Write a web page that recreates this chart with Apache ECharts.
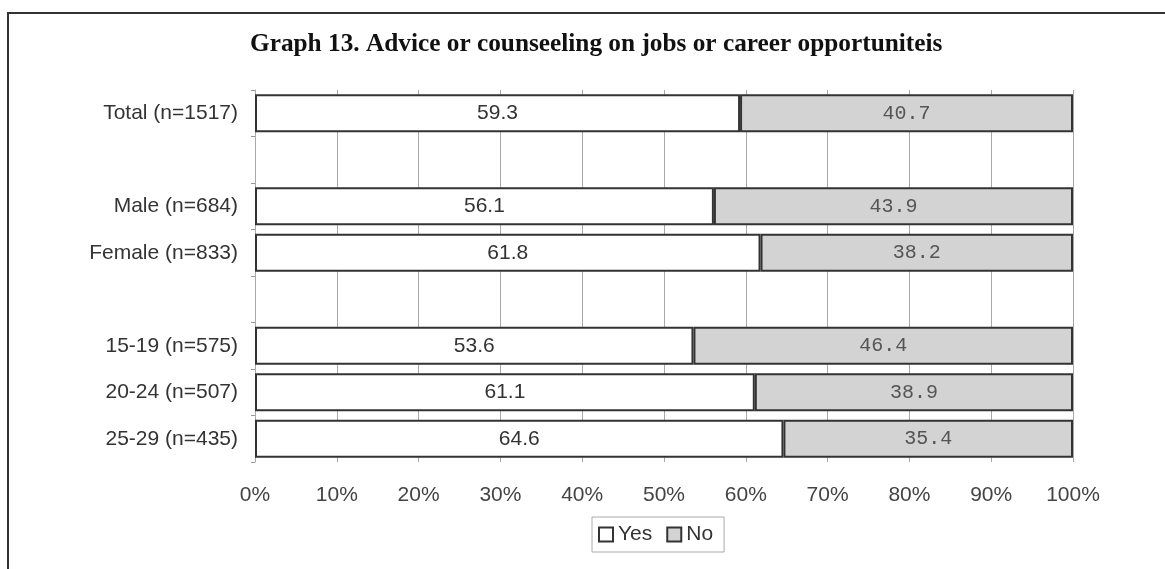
<!DOCTYPE html>
<html>
<head>
<meta charset="utf-8">
<script src="https://cdn.jsdelivr.net/npm/echarts@6/dist/echarts.min.js"></script>
<style>
html,body{margin:0;padding:0;background:#fff;}
#chart{width:1165px;height:569px;}
</style>
</head>
<body>
<div id="chart"></div>
<script>
var categories = ['Total (n=1517)', '', 'Male (n=684)', 'Female (n=833)', '', '15-19 (n=575)', '20-24 (n=507)', '25-29 (n=435)'];
var yesValues = [59.3, null, 56.1, 61.8, null, 53.6, 61.1, 64.6];
var noValues = [40.7, null, 43.9, 38.2, null, 46.4, 38.9, 35.4];
var xTickLabels = ['0%', '10%', '20%', '30%', '40%', '50%', '60%', '70%', '80%', '90%', '100%'];

var chart = echarts.init(document.getElementById('chart'), null, {renderer: 'canvas'});
chart.setOption({
  backgroundColor: '#ffffff',
  animation: false,
  title: {
    text: 'Graph 13. Advice or counseeling on jobs or career opportuniteis',
    left: 245,
    top: 27,
    textStyle: {fontFamily: 'Liberation Serif', fontWeight: 'bold', fontSize: 25.3, color: '#111'}
  },
  graphic: [{
    type: 'polyline',
    shape: {points: [[8, 569], [8, 13], [1165, 13]]},
    style: {stroke: '#333', lineWidth: 2, fill: null}
  }],
  legend: {
    data: ['Yes', 'No'],
    left: 592,
    top: 517,
    icon: 'rect',
    itemWidth: 14,
    itemHeight: 14,
    itemGap: 14,
    padding: [7, 11, 7, 6],
    borderColor: '#aaa',
    borderWidth: 1,
    textStyle: {fontFamily: 'Liberation Sans', fontSize: 21, color: '#333', padding: [0, 0, 0, 0]}
  },
  grid: {left: 255, right: 92, top: 90, bottom: 107, containLabel: false},
  xAxis: {
    type: 'value',
    min: 0, max: 100, interval: 10,
    axisLine: {show: false},
    axisTick: {show: false},
    splitLine: {show: true, lineStyle: {color: '#a8a8a8', width: 1}},
    axisLabel: {
      margin: 23,
      fontFamily: 'Liberation Sans', fontSize: 21, color: '#444',
      formatter: function (v) { return xTickLabels[Math.round(v / 10)]; }
    }
  },
  yAxis: {
    type: 'category',
    data: categories,
    inverse: true,
    axisLine: {show: true, lineStyle: {color: '#aaa'}},
    axisTick: {show: true, length: 4, lineStyle: {color: '#999'}},
    splitLine: {show: false},
    axisLabel: {margin: 17, fontFamily: 'Liberation Sans', fontSize: 21, color: '#333'}
  },
  series: [{
    name: 'Yes',
    type: 'bar',
    stack: 'total',
    data: yesValues,
    barWidth: 38,
    itemStyle: {color: '#ffffff', borderColor: '#333', borderWidth: 2},
    label: {show: true, position: 'inside', fontFamily: 'Liberation Sans', fontSize: 21, color: '#333', formatter: function (p) { return p.value.toFixed(1); }}
  }, {
    name: 'No',
    type: 'bar',
    stack: 'total',
    data: noValues,
    barWidth: 38,
    itemStyle: {color: '#d3d3d3', borderColor: '#333', borderWidth: 2},
    label: {show: true, position: 'inside', fontFamily: 'Liberation Mono', fontSize: 20, color: '#555', formatter: function (p) { return p.value.toFixed(1); }}
  }]
});
</script>
</body>
</html>
